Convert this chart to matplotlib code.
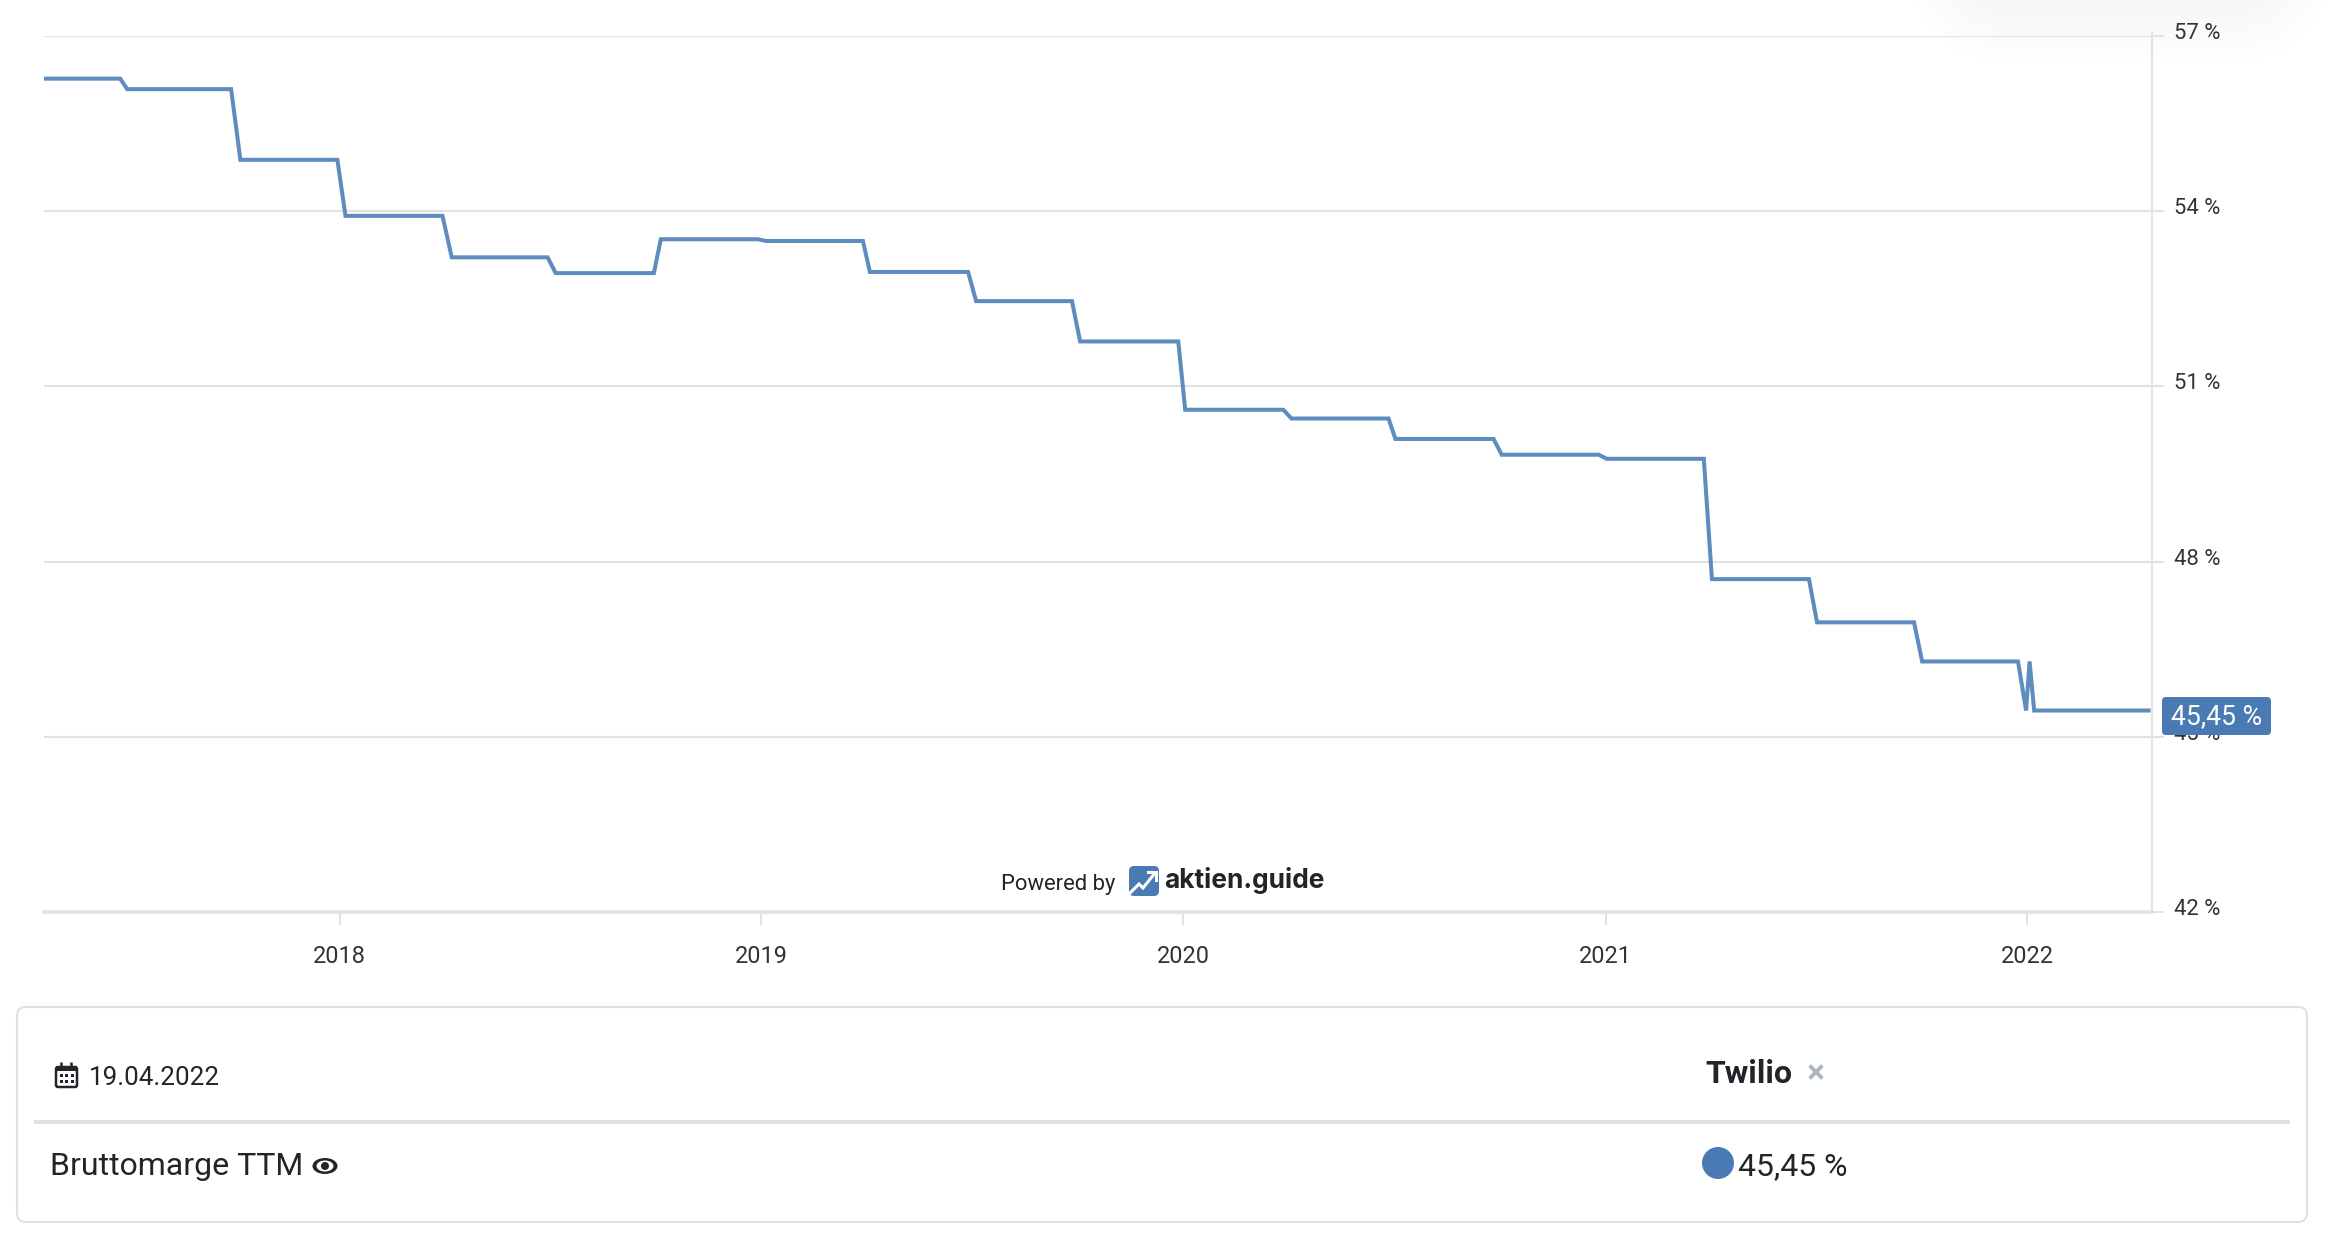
import matplotlib
matplotlib.use("Agg")
import pandas as pd
import matplotlib.pyplot as plt
import matplotlib.dates as mdates
from matplotlib.patches import FancyBboxPatch, Circle, Ellipse, Rectangle
from matplotlib.transforms import ScaledTranslation

plt.rcParams["font.family"] = ["Roboto", "DejaVu Sans"]

# Values
dates = [
    "2017-04-20", "2017-06-25", "2017-07-01", "2017-09-29", "2017-10-07", "2017-12-30",
    "2018-01-06", "2018-03-31", "2018-04-08", "2018-06-30", "2018-07-07", "2018-09-30",
    "2018-10-06", "2018-12-29", "2019-01-05", "2019-03-30", "2019-04-05", "2019-06-29",
    "2019-07-06", "2019-09-27", "2019-10-04", "2019-12-28", "2020-01-03", "2020-03-28",
    "2020-04-04", "2020-06-27", "2020-07-03", "2020-09-26", "2020-10-03", "2020-12-26",
    "2021-01-02", "2021-03-27", "2021-04-03", "2021-06-26", "2021-07-03", "2021-09-25",
    "2021-10-02", "2021-12-24", "2021-12-31", "2022-01-03", "2022-01-07", "2022-04-16",
]
margin = [
    56.27, 56.27, 56.09, 56.09, 54.88, 54.88,
    53.92, 53.92, 53.21, 53.21, 52.94, 52.94,
    53.52, 53.52, 53.49, 53.49, 52.96, 52.96,
    52.46, 52.46, 51.77, 51.77, 50.60, 50.60,
    50.45, 50.45, 50.10, 50.10, 49.83, 49.83,
    49.76, 49.76, 47.70, 47.70, 46.96, 46.96,
    46.29, 46.29, 45.45, 46.29, 45.45, 45.45,
]
y_ticks = [42, 45, 48, 51, 54, 57]
x_years = [2018, 2019, 2020, 2021, 2022]
last_value = "45,45 %"
last_date = "19.04.2022"
company = "Twilio"
metric = "Bruttomarge TTM"

W, H = 2326, 1236
GRID = "#e2e2e2"
LINE = "#5f8cbf"
BLUE = "#4a7ab4"
BORDER = "#dee2e6"
DARK = "#212529"
TICK_TEXT = "#333333"


def fpx(px):
    # font size in pt for a size in pixels at 100 dpi
    return px * 0.72


fig = plt.figure(figsize=(W / 100, H / 100), dpi=100, facecolor="white")

# Faint drop shadow in the top right corner, behind everything
# (each layer darkens by one 8-bit level, smaller alphas round away to nothing)
bg = fig.add_axes([0, 0, 1, 1], zorder=0)
bg.set_xlim(0, W)
bg.set_ylim(H, 0)
bg.axis("off")
for i in range(12):
    grow = i * 7
    bg.add_patch(FancyBboxPatch((1985 - grow, -60 - grow), 270 + 2 * grow, 45 + 2 * grow,
                                boxstyle="round,pad=0,rounding_size=%f" % (30 + grow),
                                fc="black", ec="none", alpha=0.0022))

# Chart
left, right, top, bottom = 44, 2152, 36, 912
ax = fig.add_axes([left / W, 1 - bottom / H, (right - left) / W, (bottom - top) / H], zorder=1)
ax.patch.set_alpha(0)

x = pd.to_datetime(dates)
ax.plot(x, margin, color=LINE, lw=2.9, solid_joinstyle="miter", zorder=3)

ax.set_xlim(pd.Timestamp("2017-04-20"), pd.Timestamp("2022-04-19"))
ax.set_ylim(42, 57)

ax.set_yticks(y_ticks)
ax.set_yticklabels([f"{v} %" for v in y_ticks])
ax.yaxis.tick_right()
ax.tick_params(axis="y", length=8.6, width=1.4, color=GRID, pad=7.5,
               labelsize=fpx(22), labelcolor=TICK_TEXT)
ax.grid(axis="y", color=GRID, lw=1.5, zorder=1)

ax.set_xticks([mdates.date2num(pd.Timestamp(f"{y}-01-01")) for y in x_years])
ax.set_xticklabels([str(y) for y in x_years])
ax.tick_params(axis="x", length=9, width=1.4, color=GRID, pad=15,
               labelsize=fpx(23.5), labelcolor=TICK_TEXT)

# Highcharts puts the y labels a little above the grid lines
shift = ScaledTranslation(0, 5 / 100, fig.dpi_scale_trans)
for lab in ax.get_yticklabels():
    lab.set_transform(lab.get_transform() + shift)

for side in ["left", "top"]:
    ax.spines[side].set_visible(False)
ax.spines["right"].set_color(GRID)
ax.spines["right"].set_linewidth(1.5)
ax.spines["right"].set_bounds(42, 57.07)
ax.spines["bottom"].set_color(GRID)
ax.spines["bottom"].set_linewidth(2.6)

# Everything outside the plot is drawn in pixel coordinates on top
ov = fig.add_axes([0, 0, 1, 1], zorder=5)
ov.set_xlim(0, W)
ov.set_ylim(H, 0)
ov.axis("off")

# Value badge
ov.add_patch(FancyBboxPatch((2162, 697), 109, 38, boxstyle="round,pad=0,rounding_size=4",
                            fc=BLUE, ec="none"))
ov.text(2216.5, 717, last_value, color="white", fontsize=fpx(26.5), ha="center", va="center")

# Powered by + logo
ov.text(1001, 890, "Powered by", color=DARK, fontsize=fpx(22), ha="left", va="baseline")
ov.add_patch(FancyBboxPatch((1129, 866), 30, 30, boxstyle="round,pad=0,rounding_size=5",
                            fc=BLUE, ec="none"))
ov.plot([1130, 1139, 1143, 1155], [893, 884, 888, 873], color="white", lw=2.2,
        solid_joinstyle="miter")
ov.plot([1148, 1156, 1156], [872, 872, 880], color="white", lw=2.2, solid_joinstyle="miter")
ov.text(1164, 888, "aktien.guide", color=DARK, fontsize=fpx(26.3), fontweight="bold",
        family=["Inter", "Roboto", "DejaVu Sans"], ha="left", va="baseline")

# Table below the chart
ov.add_patch(FancyBboxPatch((17, 1007), 2290, 215, boxstyle="round,pad=0,rounding_size=9",
                            fc="white", ec=BORDER, lw=1.5))
ov.plot([34, 2290], [1122, 1122], color=BORDER, lw=2.9, solid_capstyle="butt")

# calendar icon
ov.add_patch(FancyBboxPatch((56, 1067), 21, 20, boxstyle="round,pad=0,rounding_size=2",
                            fc="white", ec=DARK, lw=1.8))
ov.add_patch(Rectangle((56, 1066), 21, 5, fc=DARK, ec="none"))
for px in [61, 71]:
    ov.plot([px, px], [1062, 1067], color=DARK, lw=1.8, solid_capstyle="butt")
for px in [61, 66.5, 72]:
    for py in [1075, 1081]:
        ov.add_patch(Rectangle((px - 1.5, py - 1.5), 3, 3, fc=DARK, ec="none"))

ov.text(89, 1085, last_date, color=DARK, fontsize=fpx(26), ha="left", va="baseline")
ov.text(1705, 1083, company, color=DARK, fontsize=fpx(32), fontweight="bold", ha="left", va="baseline")

# close cross
ov.plot([1811, 1821], [1067, 1077], color="#adb5bd", lw=2.8)
ov.plot([1821, 1811], [1067, 1077], color="#adb5bd", lw=2.8)

ov.text(50, 1175, metric, color=DARK, fontsize=fpx(32), ha="left", va="baseline")

# eye icon
ov.add_patch(Ellipse((325, 1166), 25, 16, fc=DARK, ec="none"))
ov.add_patch(Ellipse((325, 1166), 17, 11, fc="white", ec="none"))
ov.add_patch(Circle((325, 1166), 4, fc=DARK, ec="none"))

ov.add_patch(Circle((1718, 1163), 16, fc=BLUE, ec="none"))
ov.text(1738, 1175, last_value, color=DARK, fontsize=fpx(32), ha="left", va="baseline")

plt.savefig("out.png", dpi=100)
